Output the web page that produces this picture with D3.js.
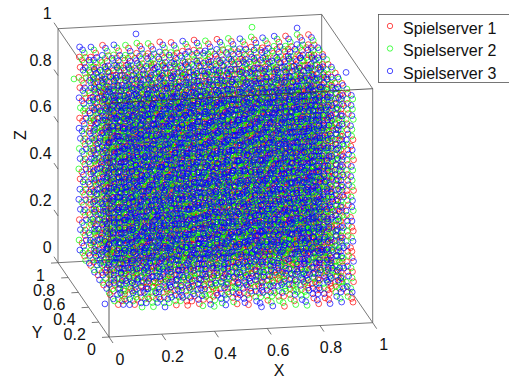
<!DOCTYPE html>
<html>
<head>
<meta charset="utf-8">
<script src="https://cdn.jsdelivr.net/npm/d3@7"></script>
<style>
  html, body { margin: 0; padding: 0; background: #fff; overflow: hidden; }
  text { font-family: "Liberation Sans", Arial, sans-serif; font-size: 16px; fill: #111; }
</style>
</head>
<body>
<svg id="chart" width="509" height="378"></svg>
<script>
const seriesNames = ["Spielserver 1", "Spielserver 2", "Spielserver 3"];
const seriesColors = ["#ff0000", "#00ff00", "#0000ff"];
const xTicks = [0, 0.2, 0.4, 0.6, 0.8, 1];
const yTicks = [0, 0.2, 0.4, 0.6, 0.8, 1];
const zTicks = [0, 0.2, 0.4, 0.6, 0.8, 1];

// the points sit on a roughly regular lattice, these are its positions per axis
const gridX = [.066,.109,.153,.196,.240,.283,.326,.370,.413,.457,.500,.543,.587,.630,.674,.717,.760,.804,.847,.891,.934];
const gridY = [.050,.093,.137,.180,.224,.267,.310,.354,.397,.441,.484,.527,.571,.614,.658,.701,.744,.788,.831,.875,.918];
const gridZ = [.076,.119,.163,.206,.250,.293,.336,.380,.423,.467,.510,.553,.597,.640,.684,.727,.770,.814,.857,.901,.944];

// small estimated offsets, the lattice in the picture is not perfectly even
const layerShiftX = [.001,-.002,.003,-.001,.003,-.003,.001,.002,-.003,.002,-.001,.003,-.002,.000,.003,-.002,.001,-.003,.002,-.001,.000];
const rowShiftX = [.000,.003,-.002,.003,-.003,.001,-.003,.002,.001,-.002,.003,-.001,.002,-.003,.003,-.001,.002,-.003,.001,.003,.000];
const columnShiftZ = [.000,-.003,.002,.001,-.003,.003,-.001,.003,-.002,.001,.003,-.003,.001,.002,-.002,.003,-.003,.001,-.001,.003,.000];
const rowShiftZ = [.000,.002,-.003,.001,.003,-.002,.003,-.003,.001,.002,-.001,-.003,.003,.002,-.002,.003,-.001,-.003,.002,.001,.000];

// server per lattice cell: one line per z layer (bottom first), one group per y row (front first),
// 1/2/3 = server, 0 = no point. Outer edges, the hidden inside is only a rough estimate.
const layers = [
"000000000000331221331 000000022311322133121 002231113223312231132 133222131313221123321 221133312321132223113 312212332113331221312 123331221232113312231 231121333122312221133 322312113231231133212 113223321122333112321 231331122313212233132 322113232311123312213 113222131233321121332 331123312112232331121 212331223321113223312 123112332232311121233 331223111323232112313 222311233121323312111 133122321213112233322 211333212322131123231 323121132213322311213",
"313322112331221323133 122231331212133221112 231113222331312113223 323221131123223331212 112333212211131223131 221123321323322111332 333112213131213223121 122321331212321132213 213233122123112331322 331112213332231123111 122233311221323312233 213121232313112221321 331312123122233113212 122233311231121322133 213111222333312131221 332321133122123213312 121212231331211332123 233133122212333121231 312221313131222313112 123312122323131122331 231123331212213331223",
"122313231121332213121 233121112332123321232 311232323213211132313 122113231131322223121 233321312222133111233 312132123313221332112 121213331122313223321 233321212331122113132 312112133223231321213 123333221112323112331 231121312231132223123 322213123312221131312 113331232123313221231 221122313231132312123 332213121322211133312 113321232113323221131 222133311232112313223 331212123321231131322 123323212113323212113 212131321232111323321 321212133321232113122",
"231131322213112333211 312222113331223121332 123313221122311233123 221131332213123112321 313222111332231323112 132313223121312121233 211132311232133223121 323221123311221313232 131312231223132311212 222131123332213122331 313223312111322231123 121332123223131312212 233111231312223323121 312323112131331212233 121212333221123131322 233131221312312223111 311223312123231311232 122312131231323122313 233121323112211333122 311232112323132221311 122313231212311233123",
"112233131321222113313 223311212132331221121 331122323213112332232 112233131321223113121 233312212133311222323 321123133221232131112 113232311312123223231 221313122123331312112 312121233231212113323 123232311123323221131 231313122231111332212 312122233312123113223 123231311123232332111 231313122231311123232 312122233112223311313 133231311321312222131 221312123132231113322 313123232211123321113 122231313323211132231 231312121132323211322 313123232211132132311",
"323112231313122312231 131223312121233121331 212331123232311233123 323112231311122321232 131223312123233113313 212331123232311221121 323112213311132333212 131223321122211113323 212331132233323221131 123113213311112332212 231221321122233113323 312332132233321221131 123113213311132312221 231221321132223133312 312332132213311221123 133113221321132332212 221221313132213113323 312332121213321221131 123113232321132332212 231221313132213113323 312332121213321221113",
"132212313231123321133 213321121312231132212 321133232123312213321 132212313231123321132 213321121312231132213 321133232123312213311 132212313231123322132 213321121312231133213 321133232123312211321 122212313231123331132 233321121312231112213 311133232123312223321 122212313231123331132 233321121312231112213 311133232123312223321 122212333231123311132 233321111312231122213 311133222123312233321 122212333231113311132 233321111322221122213 311133222133332233321",
"211323132123231312221 322131213231312123331 133212321312123231112 211323132123231312223 322131213231312123331 133212321312123231112 211323232123231312223 322131313231312123331 133212121312123231112 211323232113231312223 322131313221312123331 133212121332123231112 211323232113221312223 322131313221332123331 133212121332113231112 211323212113221332223 322131323221332113331 133212131332113221112 211323212133221332223 322131323211332113331 133212131322113221112",
"322111233132321213213 133222311213132321321 211333122321213132132 322111233132321213213 133222311213132321321 211333122321213132132 322111233132311213213 133222311213122321321 211333122321233132132 322111233122311213213 133222311233122321321 211333122311233132132 322111233122311223213 133222311233122331321 211333122311233112132 322111223122311223213 133222331233122331321 211333112311233112132 322111223122311223213 133222331233122331321 211333112311233112132",
"113221332123212331212 221332113231323112133 332113221312131223321 113221332123212331212 221332113231323112133 332113221312131223321 113221332123212331212 221332113231323112133 332113221322131223321 113221332113212331212 221332113221323112133 332113221332131223321 113221312113212331212 221332123221323112133 332113231332131223321 113231312113212331212 221312123221323112133 332123231332131223321 113231312123212331212 221312123231323112133 332123231312131223321",
"231312213113321223323 312123321221132331112 123231132332213112231 231312213113321223311 312123321221132331122 123231132332213112233 231312213113321223311 312123321221132331122 123231132332213112233 231312223113321213311 312123331221132321122 123231112332213132233 231322223113311213311 312133331221122321122 123211112332233132233 231322223113311213311 312133331221122321122 123211112332233132233 231322223133311213311 312133311221122321122 223211122312233132233",
"113232312221131322331 221313123332212133112 332121231113323211223 113232312221131322331 221313123332212133112 332121231113323211223 113232312221131322331 221313123332212133112 332121231113323211223 113232312221131322331 221313123332212133112 332121231113323211223 113232312211131322331 221313123322212133112 332121231133323211223 113232312211131322331 221313123322212133112 332121231133323211223 113232322211131322331 221313133322212133112 332121211133323211223",
"223113321322211331132 331221132133322112213 112332213211133223321 223113321322211331132 331221132133322112213 112332213211133223321 223113321322211331132 331221132133322112213 112332213211133223321 223113321322211331132 331221132133322112213 112332213211133223321 223123321322211331132 331231132133322112213 112312213211133223321 223123321322211331132 331231132133322112213 112312213211133223321 223123321322211331132 331231132133322112213 312312213211133223321",
"331222113211323133122 112333221322131211233 223111332133212322311 331222113211323133122 112333221322131211233 223111332133212322311 331222113211323133122 112333221322131211233 223111332133212322311 331222113211323133122 112333221322131211233 223111332133212322311 331222123211323133122 112333231322131211233 223111312133212322311 331222123211323133122 112333231322131211233 223111312133212322311 331222123211323133122 112333231322131211233 123111312133212322311",
"112213333121212331231 223321111232323112312 331132222313131223123 112213333121212331231 223321111232323112312 331132222313131223123 112213333121212331231 223321111232323112312 331132222313131223123 112213333121212331231 223321111232323112312 331132222313131223123 112213233121212331231 223321311232323112312 331132122313131223123 112213233121212331231 223321311232323112312 331132122313131223123 112213233121212331231 223321311232323112312 231132122313131223123",
"322131122213312113213 133212233321123221321 211323311132231332132 322131122213312113213 133212233321123221321 211323311132231332132 322131122213312113213 133212233321123221321 211323311132231332132 322131122213312113213 133212233321123221321 211323311132231332132 322131122223312113213 133212233331123221321 211323311112231332132 322131122223312113213 133212233331123221321 211323311112231332132 322131122223312113213 133212233331123221321 311323311112231332132",
"213112331232123322131 321223112313231133212 132331223121312211323 213112331232123322131 321223112313231133212 132331223121312211323 213112331232123322131 321223112313231133212 132331223121312211323 213112331232123322131 321223112313231133212 132331223121312211323 213112331212123322131 321223112323231133212 132331223131312211323 213112331212123322131 321223112323231133212 132331223131312211323 213112331212123322131 321223112323231133212 132331223131312211323",
"131223212331112323122 212331323112223131233 323112131223331212311 131223212331112323122 212331323112223131233 323112131223331212311 131223212331112323122 212331323112223131233 323112131223331212311 131223212331112323122 212331323112223131233 323112131223331212311 131223212311112323122 212331323122223131233 323112131233331212311 131223212311112323122 212331323122223131233 323112131233331212311 131223212311112323122 212331323122223131233 123112131233331212311",
"233121331123212113222 311232112231323221333 122313223312131332111 233121331123212113222 311232112231323221333 122313223312131332111 233121331123212113222 311232112231323221333 122313223312131332111 233121331123212113222 311232112231323221333 122313223312131332111 233121331133212113222 311232112211323221333 122313223322131332111 233121331133212113222 311232112211323221333 122313223322131332111 233121331133212113222 311232112211323221333 122313223322131332111",
"121332213231131223312 232113321312212331123 313221132123323112231 121332213231131223312 232113321312212331123 313221132123323112231 121332213231131223312 232113321312212331123 313221132123323112231 121332213231131223312 232113321312212331123 313221132123323112231 121332213221131223312 232113321332212331123 313221132113323112231 121332213221131223312 232113321332212331123 313221132113323112231 121332213221131223312 232113321332212331123 113221132113323112231",
"212133322113231311232 323211133221312122313 131322211332123233121 212133322113231311232 323211133221312122313 131322211332123233121 212133322113231311232 323211133221312122313 131322211332123233121 212133322113231311232 323211133221312122313 131322211332123233121 212133322123231311232 323211133231312122313 131322211312123233121 212133322123231311232 323211133231312122313 131322211312123233121 212133322123231311232 323211133231312122313 331322211312123233121",
"323311122132121233213 131122233213232311321 212233311321313122132 323311122132121233213 131122233213232311321 212233311321313122132 323311122132121233213 131122233213232311321 212233311321313122132 323311122132121233213 131122233213232311321 212233311321313122132 323311122132121233213 131122233213232311321 212233311321313122132 323311122132121233213 131122233213232311321 212233311321313122132 323311122132121233213 131122233213232311321 313221132232331311322"
];

// a few circles stray outside the lattice
const strayX = [.286, .726, .897, .957, .051, .000];
const strayY = [.95, .95, .95, .30, .95, .08];
const strayZ = [.976, .978, .964, .977, .798, .116];
const strayServer = [3, 2, 3, 3, 2, 3];

const svg = d3.select("#chart");

// orthographic view: each data axis gets its own screen direction
const xToPx = d3.scaleLinear().domain([0, 1]).range([0, 263.7]);
const xToPy = d3.scaleLinear().domain([0, 1]).range([0, -14.3]);
const yToPx = d3.scaleLinear().domain([0, 1]).range([0, -51]);
const yToPy = d3.scaleLinear().domain([0, 1]).range([0, -74.3]);
const zToPy = d3.scaleLinear().domain([0, 1]).range([0, -234]);
const originX = 109, originY = 337;

const px = (x, y) => originX + xToPx(x) + yToPx(y);
const py = (x, y, z) => originY + xToPy(x) + yToPy(y) + zToPy(z);

function edge(parent, a, b, color) {
  parent.append("line")
    .attr("x1", px(a[0], a[1])).attr("y1", py(a[0], a[1], a[2]))
    .attr("x2", px(b[0], b[1])).attr("y2", py(b[0], b[1], b[2]))
    .attr("stroke", color || "#555").attr("stroke-width", 0.8);
}

// back edges go under the points
const back = svg.append("g");
edge(back, [0,1,0], [0,1,1]);
edge(back, [1,1,0], [1,1,1]);
edge(back, [0,1,1], [1,1,1]);
edge(back, [0,1,0], [1,1,0]);
edge(back, [1,0,0], [1,1,0]);
edge(back, [0,0,0], [0,1,0]);
edge(back, [0,0,1], [0,1,1]);
edge(back, [1,0,1], [1,1,1]);
edge(back, [0,0,0], [1,0,0]);

// collect the lattice per server, cells past the end of a grid axis are skipped
const pointsBySeries = [[], [], []];
layers.forEach((layer, k) => {
  layer.split(" ").forEach((row, j) => {
    row.split("").forEach((cell, i) => {
      if (cell === "0" || i >= gridX.length || j >= gridY.length || k >= gridZ.length) return;
      pointsBySeries[+cell - 1].push([
        gridX[i] + layerShiftX[k] + rowShiftX[j],
        gridY[j],
        gridZ[k] + columnShiftZ[i] + rowShiftZ[j]
      ]);
    });
  });
});
strayX.forEach((x, i) => pointsBySeries[strayServer[i] - 1].push([x, strayY[i], strayZ[i]]));

seriesNames.forEach((name, s) => {
  svg.append("g")
    .attr("fill", "none")
    .attr("stroke", seriesColors[s])
    .attr("stroke-width", 0.7)
    .selectAll("circle")
    .data(pointsBySeries[s])
    .join("circle")
    .attr("cx", d => px(d[0], d[1]))
    .attr("cy", d => py(d[0], d[1], d[2]))
    .attr("r", 2.9);
});

// front edges are visible on top of the cloud
const front = svg.append("g");
edge(front, [0,0,0], [0,0,1], "#333");
edge(front, [0,0,1], [1,0,1], "#333");
edge(front, [1,0,0], [1,0,1]);

// x ticks
xTicks.forEach(t => {
  const x0 = px(t, 0), y0 = py(t, 0, 0);
  svg.append("line").attr("x1", x0).attr("y1", y0).attr("x2", x0 + 4).attr("y2", y0 + 6)
    .attr("stroke", "#555").attr("stroke-width", 0.8);
  svg.append("text").attr("x", x0 + 11).attr("y", y0 + 27.5)
    .attr("text-anchor", "middle").text(t);
});

// y ticks
yTicks.forEach(t => {
  const x0 = px(0, t), y0 = py(0, t, 0);
  svg.append("line").attr("x1", x0).attr("y1", y0).attr("x2", x0 - 7).attr("y2", y0 + 0.4)
    .attr("stroke", "#555").attr("stroke-width", 0.8);
  svg.append("text").attr("x", x0 - 13).attr("y", y0 + 18)
    .attr("text-anchor", "end").text(t);
});

// z ticks
zTicks.forEach(t => {
  const x0 = px(0, 1), y0 = py(0, 1, t);
  svg.append("line").attr("x1", x0).attr("y1", y0).attr("x2", x0 - 4).attr("y2", y0 - 6)
    .attr("stroke", "#555").attr("stroke-width", 0.8);
  svg.append("text").attr("x", x0 - 6.3).attr("y", y0 - 10)
    .attr("text-anchor", "end").text(t);
});

// axis labels
svg.append("text").attr("x", 279).attr("y", 375.5).attr("text-anchor", "middle").text("X");
svg.append("text").attr("x", 37).attr("y", 338).attr("text-anchor", "middle").text("Y");
svg.append("text").attr("text-anchor", "middle")
  .attr("transform", "translate(26,135) rotate(-90)").text("Z");

// legend, runs off the right side of the page like the original
svg.append("rect").attr("x", 378.5).attr("y", 14.5).attr("width", 140).attr("height", 68)
  .attr("fill", "#fff").attr("stroke", "#555").attr("stroke-width", 0.8);
const legendY = d3.scalePoint().domain(seriesNames).range([26, 71]);
seriesNames.forEach((name, s) => {
  svg.append("circle").attr("cx", 390).attr("cy", legendY(name)).attr("r", 2.7)
    .attr("fill", "none").attr("stroke", seriesColors[s]).attr("stroke-width", 0.7);
  svg.append("text").attr("x", 403).attr("y", legendY(name) + 7.5).text(name);
});
</script>
</body>
</html>
